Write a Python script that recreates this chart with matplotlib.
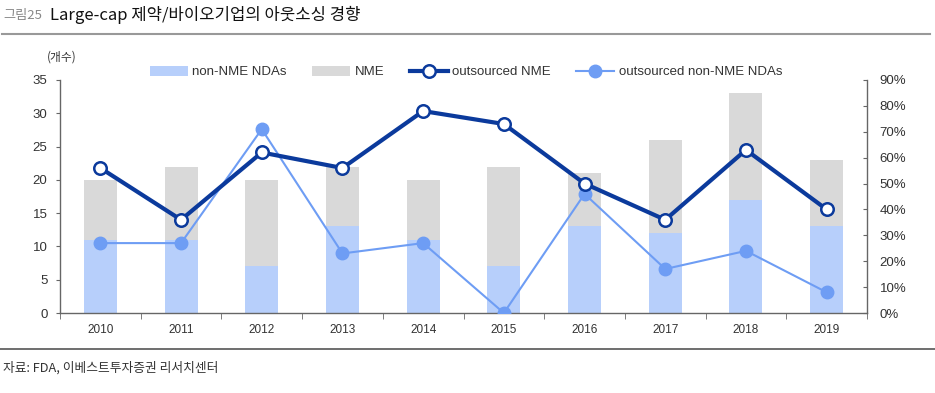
import matplotlib
matplotlib.use("Agg")
import matplotlib.pyplot as plt
import numpy as np
from matplotlib.ticker import FuncFormatter, FixedLocator

plt.rcParams['font.family'] = ['Liberation Sans', 'Noto Sans CJK KR', 'DejaVu Sans']

years = ['2010', '2011', '2012', '2013', '2014', '2015', '2016', '2017', '2018', '2019']
non_nme = [11, 11, 7, 13, 11, 7, 13, 12, 17, 13]
nme = [9, 11, 13, 9, 9, 15, 8, 14, 16, 10]
out_nme = [56, 36, 62, 56, 78, 73, 50, 36, 63, 40]
out_non_nme = [27, 27, 71, 23, 27, 0, 46, 17, 24, 8]

c_non = '#b7cffb'
c_nme = '#d9d9d9'
c_dark = '#0b3a9c'
c_light = '#6e9df4'
c_axis = '#666666'

fig = plt.figure(figsize=(9.35, 3.93), dpi=100)
ax = fig.add_axes([60/935, 1-313/393, (867-60)/935, (313-80)/393])
x = np.arange(len(years))
b1 = ax.bar(x, non_nme, width=0.41, color=c_non, label='non-NME NDAs', zorder=2)
b2 = ax.bar(x, nme, width=0.41, bottom=non_nme, color=c_nme, label='NME', zorder=2)
ax.set_xlim(-0.5, len(years)-0.5)
ax.set_ylim(0, 35)
ax.set_yticks(range(0, 36, 5))
ax.set_xticks(x)
ax.set_xticklabels(years)
ax.xaxis.set_minor_locator(FixedLocator(np.arange(-0.5, len(years), 1.0)))
ax.tick_params(axis='x', which='major', length=0, labelsize=8.5, pad=8, colors='#333333')
ax.tick_params(axis='x', which='minor', length=4, color=c_axis, direction='out')
ax.tick_params(axis='y', length=3, labelsize=9.5, colors='#333333', color=c_axis, pad=6)
ax.spines['top'].set_visible(False)
ax.spines['right'].set_visible(False)
for s in ['left', 'bottom']:
    ax.spines[s].set_color(c_axis)
    ax.spines[s].set_linewidth(1.0)

ax2 = ax.twinx()
ax2.set_ylim(0, 90)
ax2.set_yticks(range(0, 91, 10))
ax2.yaxis.set_major_formatter(FuncFormatter(lambda v, p: f'{int(v)}%'))
ax2.tick_params(axis='y', length=3, direction='in', labelsize=9.5, colors='#333333',
                color=c_axis, pad=9)
for s in ['top', 'left', 'bottom']:
    ax2.spines[s].set_visible(False)
ax2.spines['right'].set_color(c_axis)
ax2.spines['right'].set_linewidth(1.0)
l1, = ax2.plot(x, out_nme, color=c_dark, lw=3, marker='o', ms=9, mfc='white',
               mec=c_dark, mew=1.8, label='outsourced NME', zorder=4)
l2, = ax2.plot(x, out_non_nme, color=c_light, lw=1.5, marker='o', ms=9, mfc=c_light,
               mec=c_light, label='outsourced non-NME NDAs', zorder=3)

fig.legend(handles=[b1, b2, l1, l2], loc='center', bbox_to_anchor=(466/935, 1-72/393),
           ncol=4, frameon=False, fontsize=9.5, handlelength=2.9, handleheight=0.8,
           columnspacing=1.9, handletextpad=0.35, labelcolor='#333333')

fig.text(47/935, 1-57/393, '(개수)', fontsize=8.5, color='#333333', ha='left', va='center',
         family=['Noto Sans CJK KR', 'DejaVu Sans'])

# title
fig.text(3/935, 1-15/393, '그림25', fontsize=9.5, color='#888888', ha='left', va='center',
         family=['Noto Sans CJK KR', 'DejaVu Sans'])
fig.text(50/935, 1-15/393, 'Large-cap 제약/바이오기업의 아웃소싱 경향', fontsize=12, color='#111111',
         ha='left', va='center', family=['Noto Sans CJK KR', 'DejaVu Sans'])
fig.add_artist(plt.Line2D([2/935, 930/935], [1-34/393, 1-34/393], color='#999999', lw=1.5))
fig.add_artist(plt.Line2D([0, 1], [1-349/393, 1-349/393], color='#555555', lw=1.2))
fig.text(3/935, 1-368/393, '자료: FDA, 이베스트투자증권 리서치센터', fontsize=9.2, color='#333333',
         ha='left', va='center', family=['Noto Sans CJK KR', 'DejaVu Sans'])

fig.savefig('out.png', dpi=100)
